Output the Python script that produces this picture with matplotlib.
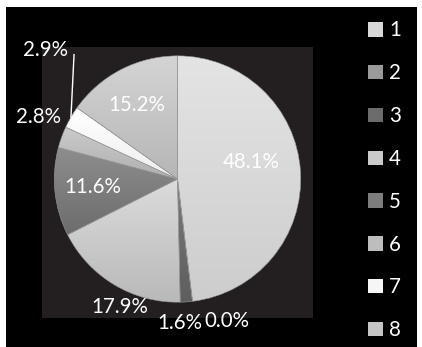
import matplotlib
matplotlib.use("Agg")
import matplotlib.pyplot as plt
from matplotlib.colors import LinearSegmentedColormap
from matplotlib.patches import Patch
import numpy as np

plt.rcParams["font.family"] = ["Lato", "DejaVu Sans"]

# slice shares (percent) in legend order
categories = ["1", "2", "3", "4", "5", "6", "7", "8"]
shares = [48.1, 0.0, 1.6, 17.9, 11.6, 2.8, 2.9, 15.2]

# vertical gradient per slice: (top, bottom)
fills = [
    ("#e4e4e4", "#cdcdcd"),
    ("#a8a8a8", "#8c8c8c"),
    ("#7a7a7a", "#5e5e5e"),
    ("#dcdcdc", "#b9b9b9"),
    ("#8e8e8e", "#6c6c6c"),
    ("#cacaca", "#b0b0b0"),
    ("#ffffff", "#eeeeee"),
    ("#d4d4d4", "#b6b6b6"),
]

# where each percentage label sits (data units, pie radius = 1)
label_xy = [
    (0.60, 0.14),
    (0.40, -1.15),
    (0.02, -1.17),
    (-0.47, -1.04),
    (-0.69, -0.065),
    (-1.13, 0.50),
    (-1.07, 1.05),
    (-0.33, 0.60),
]

W, H = 422, 347
FS = 14.8
fig = plt.figure(figsize=(W / 100, H / 100), dpi=100, facecolor="white")

# black chart area inside the white rim
bg = fig.add_axes([6 / W, 0, (417 - 6) / W, (347 - 7) / H])
bg.set_facecolor("black")
bg.set_xticks([])
bg.set_yticks([])
for s in bg.spines.values():
    s.set_visible(False)

# plot area
ax = fig.add_axes([42 / W, (H - 318) / H, 271 / W, 271 / H])

wedges, _ = ax.pie(shares, startangle=90, counterclock=False, radius=1.0,
                   wedgeprops=dict(linewidth=0.4, edgecolor="#9a9a9a"))
ax.set_frame_on(True)
ax.set_facecolor("#231f20")
for s in ax.spines.values():
    s.set_visible(False)

for w, (top, bot) in zip(wedges, fills):
    x0, y0, x1, y1 = w.get_path().get_extents().extents
    if x1 - x0 < 1e-6 or y1 - y0 < 1e-6:
        continue
    cmap = LinearSegmentedColormap.from_list("g", [top, bot])
    grad = np.linspace(0, 1, 256).reshape(-1, 1)
    im = ax.imshow(grad, cmap=cmap, extent=(x0, x1, y0, y1), origin="upper",
                   aspect="auto", zorder=w.get_zorder() - 0.1)
    im.set_clip_path(w)
    w.set_facecolor("none")

for v, (lx, ly) in zip(shares, label_xy):
    ax.text(lx, ly, f"{v:.1f}%", color="white", fontsize=FS,
            ha="center", va="center", zorder=5, clip_on=False)

# leader line for the small white slice
mid = np.deg2rad((wedges[6].theta1 + wedges[6].theta2) / 2)
ax.plot([-0.84, np.cos(mid)], [1.01, np.sin(mid)], color="white", lw=1,
        zorder=5, clip_on=False)

ax.set_xlim(-1.1, 1.1)
ax.set_ylim(-1.128, 1.072)
ax.set_aspect("auto")
ax.set_xticks([])
ax.set_yticks([])

handles = [Patch(facecolor=LinearSegmentedColormap.from_list("m", f)(0.5), edgecolor="none")
           for f in fills]
leg = fig.legend(handles, categories, loc="upper left",
                 bbox_to_anchor=(349 / W, 1 - 2 / H), frameon=False,
                 fontsize=FS, labelcolor="white", handlelength=0.75,
                 handleheight=0.7, handletextpad=0.3, labelspacing=1.11)

fig.savefig("out.png", dpi=100, facecolor="white")
